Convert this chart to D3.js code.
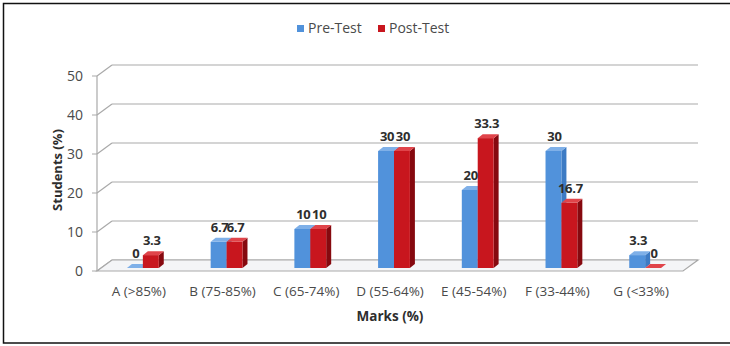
<!DOCTYPE html>
<html><head><meta charset="utf-8">
<script src="https://cdn.jsdelivr.net/npm/d3@7"></script>
<style>body{margin:0;background:#fff}svg{display:block}</style>
</head><body>
<svg id="c" width="730" height="346"></svg>
<script>
const categories = ["A (>85%)","B (75-85%)","C (65-74%)","D (55-64%)","E (45-54%)","F (33-44%)","G (<33%)"];
const preTest  = [0, 6.7, 10, 30, 20, 30, 3.3];
const postTest = [3.3, 6.7, 10, 30, 33.3, 16.7, 0];
const seriesNames = ["Pre-Test","Post-Test"];
const yTicks = [0,10,20,30,40,50];

const svg = d3.select("#c");
const font = "'Open Sans', 'Liberation Sans', sans-serif";
const W = 730, H = 346;

// frame
svg.append("rect").attr("x",3.5).attr("y",3.5).attr("width",W+5).attr("height",339.5)
  .attr("fill","#fff").attr("stroke","#111").attr("stroke-width",1.5);

const left = 97, right = 683;
const depthX = 15, depthY = -11;
const x = d3.scaleBand().domain(categories).range([left, right]).padding(0);
const y = d3.scaleLinear().domain([0,50]).range([271, 76]);

const g = svg.append("g");
const gridColor = "#a9a9a9";

yTicks.forEach(t => {
  const yf = y(t);
  g.append("line").attr("x1",left).attr("y1",yf).attr("x2",left+depthX).attr("y2",yf+depthY)
    .attr("stroke",gridColor).attr("stroke-width",1.2);
  g.append("line").attr("x1",left+depthX).attr("y1",yf+depthY).attr("x2",right+depthX).attr("y2",yf+depthY)
    .attr("stroke",gridColor).attr("stroke-width",1.2);
  g.append("line").attr("x1",left-5).attr("y1",yf).attr("x2",left).attr("y2",yf)
    .attr("stroke",gridColor).attr("stroke-width",1);
  g.append("text").attr("x",left-14).attr("y",yf).attr("dy","0.35em")
    .attr("text-anchor","end").attr("font-family",font).attr("font-size",14)
    .attr("fill","#4a4a4a").text(t);
});
g.append("line").attr("x1",left).attr("y1",y(0)).attr("x2",left).attr("y2",y(50))
  .attr("stroke",gridColor).attr("stroke-width",1.2);
g.append("path").attr("d",`M${left},${y(0)} L${right},${y(0)} L${right+depthX},${y(0)+depthY} L${left+depthX},${y(0)+depthY} Z`)
  .attr("fill","#f4f5f7").attr("stroke",gridColor).attr("stroke-width",1.2);

const colors = [
  {front:"#5192db", side:"#3d7bc4", top:"#7fb0e8"},
  {front:"#c8161e", side:"#86090f", top:"#e0444a"}
];
const bw = x.bandwidth()*0.19;
const offX = 4, offY = -3;
const bdx = 5, bdy = -4;
const data = [];
categories.forEach((c,i) => {
  [preTest[i], postTest[i]].forEach((v,s) => data.push({c, v, s}));
});
data.forEach(d => {
  const cx = x(d.c) + x.bandwidth()/2 + offX;
  const x0 = d.s === 0 ? cx - bw : cx;
  const x1 = x0 + bw;
  const yb = y(0) + offY;
  const yt = y(d.v) + offY;
  const col = colors[d.s];
  const bg = g.append("g");
  bg.append("path").attr("d",`M${x1},${yb} L${x1+bdx},${yb+bdy} L${x1+bdx},${yt+bdy} L${x1},${yt} Z`).attr("fill",col.side);
  bg.append("path").attr("d",`M${x0},${yt} L${x0+bdx},${yt+bdy} L${x1+bdx},${yt+bdy} L${x1},${yt} Z`).attr("fill",col.top);
  bg.append("rect").attr("x",x0).attr("y",yt).attr("width",bw).attr("height",Math.max(0,yb-yt)).attr("fill",col.front);
  d.lx = (x0+x1)/2 + 1; d.ly = yt - 10;
});
data.forEach(d => {
  g.append("text").attr("x",d.lx).attr("y",d.ly).attr("text-anchor","middle")
    .attr("font-family",font).attr("font-size",13).attr("font-weight","bold")
    .attr("letter-spacing",-0.3).attr("fill","#2e2e2e").text(d.v);
});

categories.forEach(c => {
  g.append("text").attr("x",x(c)+x.bandwidth()/2).attr("y",296)
    .attr("text-anchor","middle").attr("font-family",font).attr("font-size",13.5)
    .attr("fill","#4a4a4a").text(c);
});
svg.append("text").attr("x",(left+right)/2).attr("y",321).attr("text-anchor","middle")
  .attr("font-family",font).attr("font-size",13.5).attr("font-weight","bold").attr("fill","#2e2e2e").text("Marks (%)");
svg.append("text").attr("transform","translate(62,170) rotate(-90)").attr("text-anchor","middle")
  .attr("font-family",font).attr("font-size",13).attr("font-weight","bold").attr("fill","#2e2e2e").text("Students (%)");

const leg = [{n:seriesNames[0], x:297, c:colors[0].front},{n:seriesNames[1], x:378, c:colors[1].front}];
leg.forEach(l => {
  svg.append("rect").attr("x",l.x).attr("y",25).attr("width",7).attr("height",7).attr("fill",l.c);
  svg.append("text").attr("x",l.x+11).attr("y",28.5).attr("dy","0.35em").attr("font-family",font)
    .attr("font-size",14).attr("fill","#4a4a4a").text(l.n);
});
</script>
</body></html>
